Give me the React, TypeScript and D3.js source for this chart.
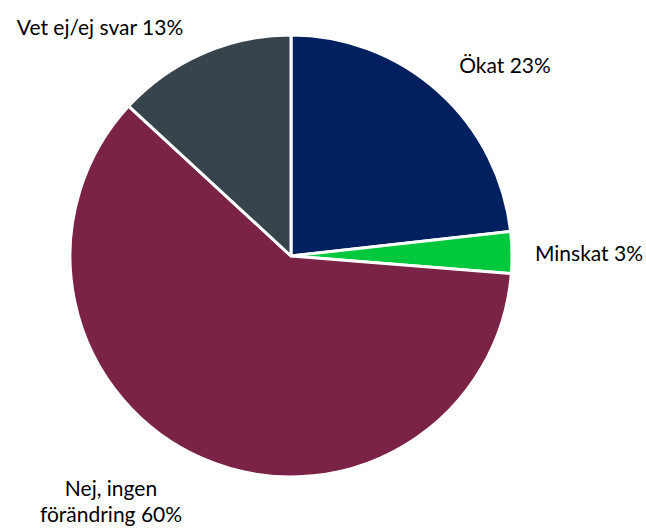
import React from "react";
import * as d3 from "d3";

const categories = ["Ökat", "Minskat", "Nej, ingen förändring", "Vet ej/ej svar"];
const values = [23, 3, 60, 13];
const colors = ["#002060", "#00C83C", "#7B2346", "#37444C"];
const labelLines = [["Ökat 23%"], ["Minskat 3%"], ["Nej, ingen", "förändring 60%"], ["Vet ej/ej svar 13%"]];
const labelPos = [
  [505, 66],
  [589, 254],
  [111, 489],
  [100, 28],
];

export default function App() {
  const W = 646, H = 529;
  const cx = 291, cy = 256, r = 221;
  const pie = d3.pie<number>().sort(null).value((d) => d)(values);
  const arc = d3.arc<d3.PieArcDatum<number>>().innerRadius(0).outerRadius(r);
  return (
    <svg width={W} height={H} style={{ position: "absolute", left: 0, top: 0, background: "#fff" }}
      fontFamily="Lato, 'Open Sans', sans-serif">
      <g transform={`translate(${cx},${cy})`}>
        {pie.map((p, i) => (
          <path key={categories[i]} d={arc(p) || ""} fill={colors[i]} stroke="#fff" strokeWidth={3} strokeLinejoin="round" />
        ))}
      </g>
      {labelLines.map((lines, i) => (
        <text key={i} x={labelPos[i][0]} y={labelPos[i][1]} textAnchor="middle" fontSize={21} fill="#000">
          {lines.map((l, j) => (
            <tspan key={j} x={labelPos[i][0]} dy={j === 0 ? "0.35em" : 26}>{l}</tspan>
          ))}
        </text>
      ))}
    </svg>
  );
}
